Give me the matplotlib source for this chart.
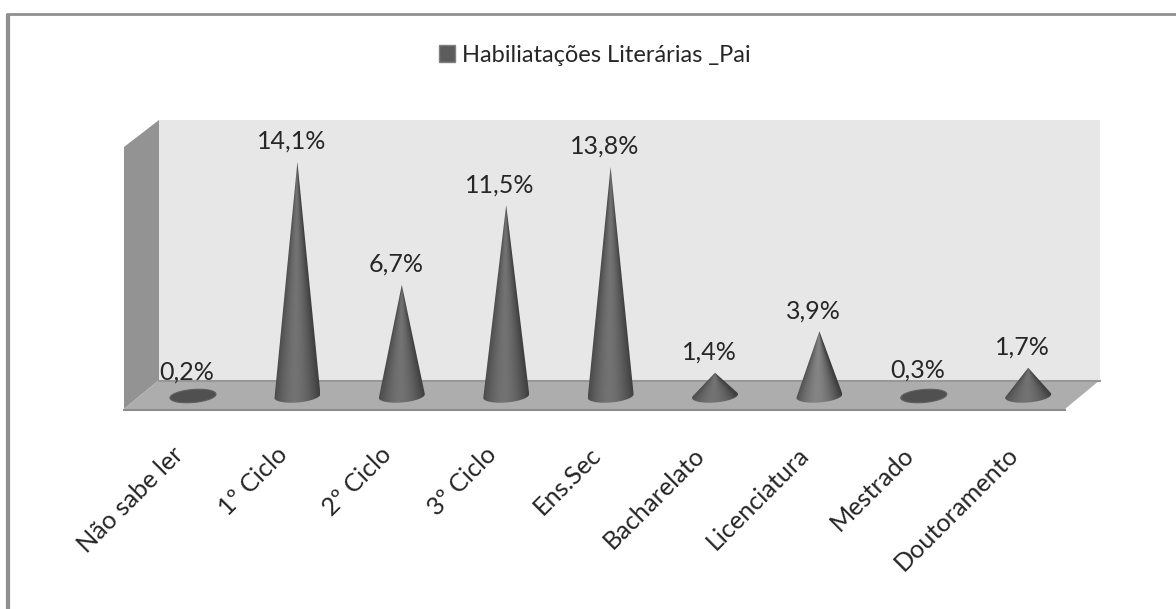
import numpy as np
import matplotlib
matplotlib.use("Agg")
import matplotlib.pyplot as plt
from matplotlib.patches import Polygon, Patch
from matplotlib.path import Path
from matplotlib.transforms import Affine2D

categories = ["Não sabe ler", "1º Ciclo", "2º Ciclo", "3º Ciclo", "Ens.Sec",
              "Bacharelato", "Licenciatura", "Mestrado", "Doutoramento"]
values = [0.2, 14.1, 6.7, 11.5, 13.8, 1.4, 3.9, 0.3, 1.7]
value_labels = ["0,2%", "14,1%", "6,7%", "11,5%", "13,8%", "1,4%", "3,9%", "0,3%", "1,7%"]
series_name = "Habiliatações Literárias _Pai"

W, H = 1176, 609
X0, DX = 193.0, 104.4   # pixel of first category, pixels per category
Y0, DY = 396.0, 16.6    # pixel of value 0, pixels per unit

plt.rcParams["font.family"] = ["Lato", "DejaVu Sans"]
fig = plt.figure(figsize=(W / 100, H / 100), dpi=100, facecolor="white")
ax = fig.add_axes([0, 0, 1, 1])
ax.axis("off")
pix = Affine2D().scale(1 / W, -1 / H).translate(0, 1) + ax.transAxes


def deco(pts, fc, ec="none", lw=0, z=1):
    ax.add_patch(Polygon(pts, closed=True, fc=fc, ec=ec, lw=lw, transform=pix, zorder=z))


# outer frame
ax.plot([7.5, 7.5], [609, 14], color="#8f8f8f", lw=3, transform=pix, solid_capstyle="butt", zorder=1)
ax.plot([6, 1176], [14, 14], color="#8f8f8f", lw=2, transform=pix, solid_capstyle="butt", zorder=1)

# 3D chart box
deco([(159, 120), (1100, 120), (1100, 380), (159, 380)], "#e7e7e7")
deco([(124, 147), (159, 120), (159, 380), (124, 409)], "#939393")
deco([(124, 409), (159, 380), (1100, 380), (1065, 409)], "#adadad")
ax.plot([159, 1100], [381, 381], color="#979797", lw=1.5, transform=pix, zorder=2)
ax.plot([124, 1065], [409.5, 409.5], color="#8c8c8c", lw=1.5, transform=pix, zorder=2)

rx = 23.0 / DX
ry = 6.5 / DY
tilt = 1.8 / DY
t = np.linspace(0, 2 * np.pi, 361)[:-1]

for i, v in enumerate(values):
    ex = i + rx * np.cos(t)
    ey = ry * np.sin(t) + tilt * np.cos(t)
    ymin = ey.min()
    if v * DY < 8:
        ax.add_patch(Polygon(np.column_stack([ex, ey]), closed=True, fc="#505050",
                             ec="#5e5e5e", lw=0.8, zorder=3))
        continue
    # outline: apex, tangent points, lower arc of the base
    slope = (ex - i) / (v - ey)
    kl, kr = int(np.argmin(slope)), int(np.argmax(slope))
    order = np.roll(np.arange(360), -kl)
    arc = order[:((kr - kl) % 360) + 1]
    pts = np.vstack([[i, v], np.column_stack([ex[arc], ey[arc]]), [i, v]])
    path = Path(pts)
    # conical shading
    xs = np.linspace(-rx, rx, 120)
    ys = np.linspace(ymin, v, 300)
    X, Y = np.meshgrid(xs, ys)
    half = np.maximum(rx * (v - Y) / v, 1e-3)
    u = np.clip(X / half, -1, 1)
    hi = 0.52 if 2 < v < 5 else 0.45
    shade = 0.27 + (hi - 0.27) * (1 - np.abs(u + 0.08) ** 1.6)
    im = ax.imshow(shade, extent=(i - rx, i + rx, ymin, v), origin="lower", cmap="gray",
                   vmin=0, vmax=1, aspect="auto", interpolation="bilinear", zorder=3)
    im.set_clip_path(path, ax.transData)

for i, (v, lab) in enumerate(zip(values, value_labels)):
    ax.annotate(lab, xy=(i, v), xytext=(-6, 9), textcoords="offset pixels", ha="center",
                va="bottom", fontsize=18, color="#262626", zorder=4)

for i, cat in enumerate(categories):
    ax.annotate(cat, xy=(i, 0), xytext=(-22, -47), textcoords="offset pixels", ha="right",
                va="top", rotation=45, rotation_mode="anchor", fontsize=18.2, color="#262626", zorder=4)

leg = ax.legend(handles=[Patch(fc="#5c5c5c", ec="#808080", lw=1, label=series_name)],
                loc="center", bbox_to_anchor=(595 / W, 1 - 55.5 / H), frameon=False, fontsize=17,
                handlelength=0.7, handleheight=0.7, handletextpad=0.3,
                labelcolor="#262626")

ax.set_xlim(-X0 / DX, (W - X0) / DX)
ax.set_ylim((Y0 - H) / DY, Y0 / DY)
fig.savefig("out.png", dpi=100, facecolor="white")
